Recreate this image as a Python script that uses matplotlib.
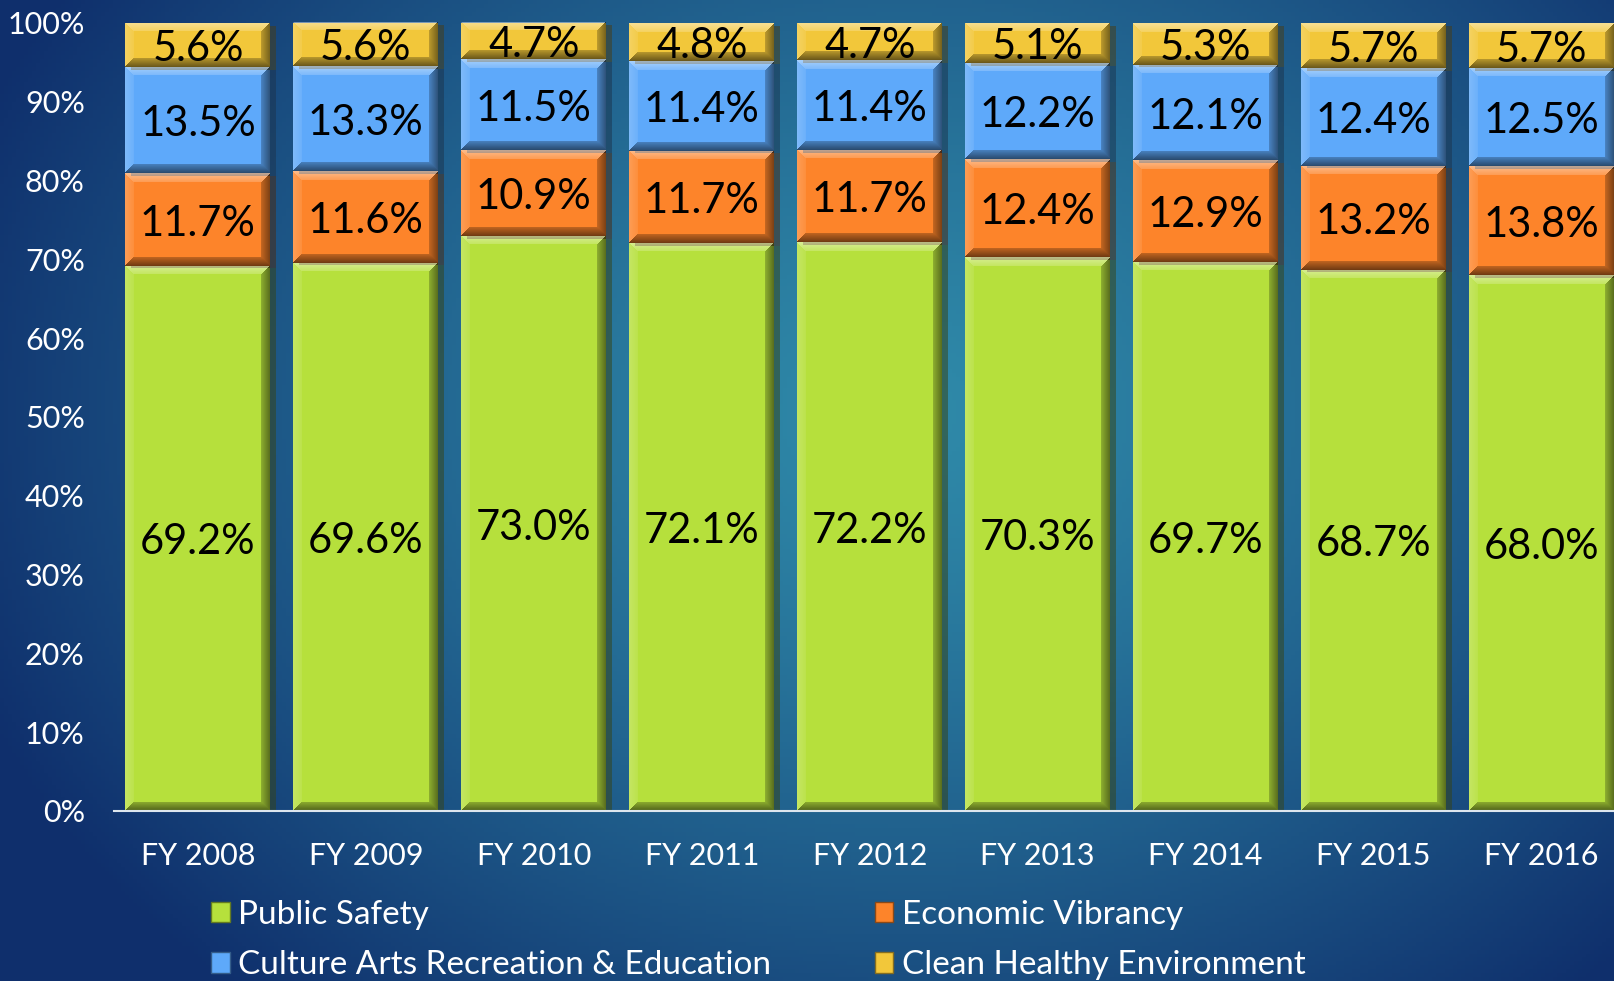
import numpy as np
import matplotlib
matplotlib.use("Agg")
from matplotlib import pyplot as plt
from matplotlib import patheffects as pe
from matplotlib.colors import to_rgb
from matplotlib.patches import Patch

# data
years = ['FY 2008', 'FY 2009', 'FY 2010', 'FY 2011', 'FY 2012',
         'FY 2013', 'FY 2014', 'FY 2015', 'FY 2016']
public_safety = [69.2, 69.6, 73.0, 72.1, 72.2, 70.3, 69.7, 68.7, 68.0]
economic_vibrancy = [11.7, 11.6, 10.9, 11.7, 11.7, 12.4, 12.9, 13.2, 13.8]
culture_arts = [13.5, 13.3, 11.5, 11.4, 11.4, 12.2, 12.1, 12.4, 12.5]
clean_env = [5.6, 5.6, 4.7, 4.8, 4.7, 5.1, 5.3, 5.7, 5.7]

series = [
    ('Public Safety', public_safety, '#b6e03c'),
    ('Economic Vibrancy', economic_vibrancy, '#fd842a'),
    ('Culture Arts Recreation & Education', culture_arts, '#5ea9fa'),
    ('Clean Healthy Environment', clean_env, '#f2c73a'),
]

plt.rcParams['font.family'] = ['Lato', 'DejaVu Sans']

fig = plt.figure(figsize=(16.14, 9.81), dpi=100)

# background gradient
bg = fig.add_axes([0, 0, 1, 1], zorder=-10)
gx, gy = np.meshgrid(np.linspace(0, 1, 400), np.linspace(0, 1, 250))
d = np.sqrt(((gx - 0.56) / 0.62) ** 2 + ((gy - 0.42) / 0.80) ** 2)
d = np.clip(d, 0, 1) ** 1.3
c_in = np.array(to_rgb('#2f8aa9'))
c_out = np.array(to_rgb('#0f2f6c'))
img = c_in[None, None, :] * (1 - d[..., None]) + c_out[None, None, :] * d[..., None]
bg.imshow(img, extent=[0, 1, 0, 1], aspect='auto', origin='upper')
bg.axis('off')

ax = fig.add_axes([0.0706, 0.1733, 0.9294, 0.8033])
ax.set_facecolor('none')
ax.set_xlim(-0.5, 8.4315)
ax.set_ylim(0, 100)


def bevel(bar, bw=9):
    # light top/left, dark bottom/right frame, like a bevelled shape
    (x0, y0), (x1, y1) = ax.transData.transform(
        [(bar.get_x(), bar.get_y()),
         (bar.get_x() + bar.get_width(), bar.get_y() + bar.get_height())])
    w, h = max(int(round(x1 - x0)), 2), max(int(round(y1 - y0)), 2)
    yy, xx = np.mgrid[0:h, 0:w]
    dt, db, dl, dr = yy, h - 1 - yy, xx, w - 1 - xx
    dist = np.stack([dt, db, dl, dr])
    side = np.argmin(dist, axis=0)
    m = dist.min(axis=0)
    rgba = np.zeros((h, w, 4))
    inband = m < bw
    fade = 1 - m / bw
    white = [(0, 0.45), (2, 0.2)]
    dark = [(1, 0.55), (3, 0.5)]
    for s, a in white:
        sel = inband & (side == s)
        rgba[sel, :3] = 1
        rgba[sel, 3] = a * (0.4 + 0.6 * fade[sel])
    for s, a in dark:
        sel = inband & (side == s)
        rgba[sel, :3] = 0
        rgba[sel, 3] = a * (0.4 + 0.6 * fade[sel])
    im = ax.imshow(rgba, extent=[bar.get_x(), bar.get_x() + bar.get_width(),
                                 bar.get_y(), bar.get_y() + bar.get_height()],
                   origin='upper', aspect='auto', interpolation='nearest',
                   zorder=2.5)
    im.set_clip_path(bar)


x = np.arange(len(years))
width = 0.863
bottom = np.zeros(len(years))
for name, vals, color in series:
    vals = np.array(vals)
    bars = ax.bar(x, vals, width, bottom=bottom, color=color, linewidth=0,
                  label=name, zorder=2)
    for b in bars:
        b.set_path_effects([pe.SimplePatchShadow(offset=(4, -2), alpha=0.5),
                            pe.Normal()])
        bevel(b)
    for xi, v, b0 in zip(x, vals, bottom):
        ax.annotate(f'{v:.1f}%', (xi, b0 + v / 2), xytext=(0, -3),
                    textcoords='offset points', ha='center', va='center',
                    fontsize=30, color='black', zorder=4)
    bottom = bottom + vals

ax.set_xlim(-0.5, 8.4315)
ax.set_ylim(0, 100)
ax.set_yticks(range(0, 101, 10))
ax.set_yticklabels([f'{t}%' for t in range(0, 101, 10)])
ax.set_xticks(x)
ax.set_xticklabels(years)
ax.tick_params(axis='y', length=0, pad=21, labelsize=22, labelcolor='white')
ax.tick_params(axis='x', length=0, pad=22, labelsize=22, labelcolor='white')
for s in ['top', 'right', 'left']:
    ax.spines[s].set_visible(False)
ax.spines['bottom'].set_color('#dde6ee')
ax.spines['bottom'].set_linewidth(1.5)
ax.spines['bottom'].set_zorder(3)

handles = [Patch(facecolor=c, edgecolor=tuple(np.array(to_rgb(c)) * 0.55))
           for _, _, c in series]
labels = [n for n, _, _ in series]
order = [0, 2, 1, 3]
leg = fig.legend([handles[i] for i in order], [labels[i] for i in order],
                 ncol=2, loc='upper left', bbox_to_anchor=(0.131, 0.083),
                 frameon=False, fontsize=24, labelcolor='white',
                 handlelength=0.56, handleheight=0.56, handletextpad=0.25,
                 columnspacing=3.1, labelspacing=0.62, borderpad=0,
                 borderaxespad=0)

fig.savefig('out.png', dpi=100)
